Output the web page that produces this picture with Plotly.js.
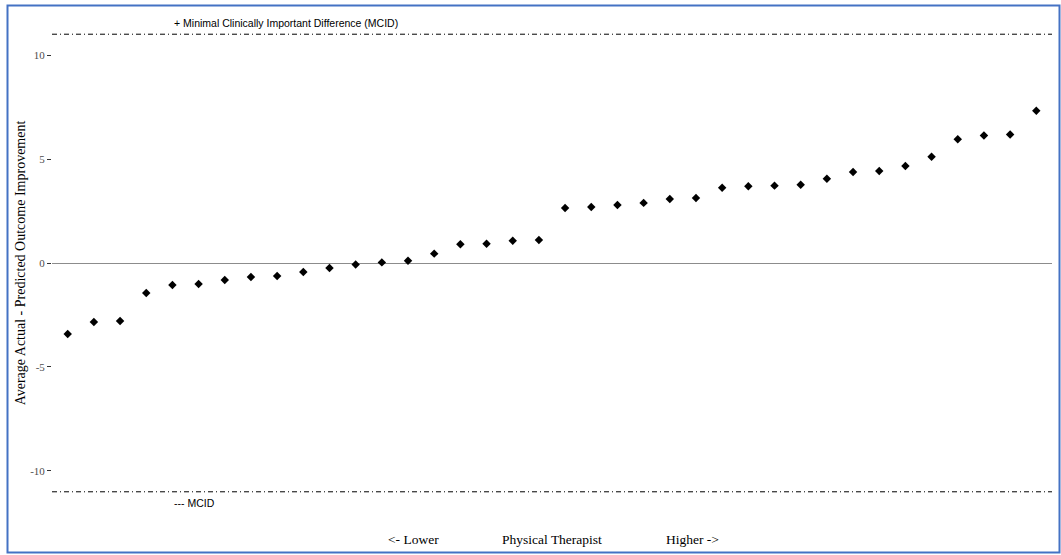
<!DOCTYPE html>
<html>
<head>
<meta charset="utf-8">
<script src="https://cdn.plot.ly/plotly-3.0.1.min.js"></script>
<style>
  html, body { margin: 0; padding: 0; background: #ffffff; }
  #chart { width: 1061px; height: 555px; }
</style>
</head>
<body>
<div id="chart"></div>
<script>
// Therapists ranked from lower to higher (index 1..38)
const therapistRank = Array.from({length: 38}, (_, i) => i + 1);
// Average actual - predicted outcome improvement per therapist
const avgDiff = [
  -3.41, -2.84, -2.79, -1.44, -1.06, -1.01, -0.82, -0.67, -0.63, -0.43,
  -0.24, -0.07, 0.03, 0.11, 0.45, 0.90, 0.93, 1.07, 1.11, 2.64,
  2.69, 2.79, 2.89, 3.08, 3.13, 3.62, 3.69, 3.72, 3.76, 4.05,
  4.38, 4.42, 4.66, 5.11, 5.95, 6.13, 6.18, 7.32
];
const mcid = 11;
const yTicks = [-10, -5, 0, 5, 10];
const labelTop = "+ Minimal Clinically Important Difference (MCID)";
const labelBottom = "--- MCID";
const xLabels = ["<- Lower", "Physical Therapist", "Higher ->"];
const xLabelPos = [0.361, 0.5, 0.64];
const yTitle = "Average Actual - Predicted Outcome Improvement";

const serif = "Liberation Serif, Times New Roman, serif";
const sans = "Liberation Sans, Arial, sans-serif";

const trace = {
  x: therapistRank,
  y: avgDiff,
  type: "scatter",
  mode: "markers",
  marker: { symbol: "diamond", size: 6.5, color: "#000000" },
  hoverinfo: "x+y",
  showlegend: false
};

// plot area: left 52, width 1000; top 13, height 500
const L = 52, W = 1000, T = 13, H = 500;
const px2paperX = p => (p - L) / W;
const px2paperY = p => (T + H - p) / H;

const shapes = [
  { type: "line", xref: "paper", x0: 0, x1: 1, yref: "y", y0: mcid, y1: mcid,
    line: { color: "#000000", width: 1, dash: "5px,3px,1px,3px" } },
  { type: "line", xref: "paper", x0: 0, x1: 1, yref: "y", y0: -mcid, y1: -mcid,
    line: { color: "#000000", width: 1, dash: "5px,3px,1px,3px" } },
  { type: "rect", xref: "paper", yref: "paper",
    x0: px2paperX(7.5), x1: px2paperX(1059.5), y0: px2paperY(552.5), y1: px2paperY(5.5),
    line: { color: "#4472C4", width: 2 }, fillcolor: "rgba(0,0,0,0)", layer: "above" }
];

const annotations = [
  { x: 5, y: mcid + 0.55, xref: "x", yref: "y", text: labelTop, showarrow: false,
    xanchor: "left", yanchor: "middle", font: { family: sans, size: 10.5, color: "#000000" } },
  { x: 5, y: -mcid - 0.55, xref: "x", yref: "y", text: labelBottom, showarrow: false,
    xanchor: "left", yanchor: "middle", font: { family: sans, size: 10.5, color: "#000000" } }
];
xLabels.forEach((t, i) => {
  annotations.push({ x: xLabelPos[i], y: px2paperY(539), xref: "paper", yref: "paper",
    text: t, showarrow: false, xanchor: "center", yanchor: "middle",
    font: { family: serif, size: 13.5, color: "#000000" } });
});

const layout = {
  width: 1061, height: 555,
  margin: { l: L, r: 1061 - L - W, t: T, b: 555 - T - H, pad: 0 },
  paper_bgcolor: "#ffffff", plot_bgcolor: "#ffffff",
  xaxis: {
    range: [0.4, 38.6], showticklabels: false, ticks: "", showgrid: false,
    zeroline: false, showline: false
  },
  yaxis: {
    range: [-12.02, 12.02], tickvals: yTicks, ticktext: yTicks.map(String),
    ticks: "outside", ticklen: 4, tickwidth: 1.2, tickcolor: "#333333",
    tickfont: { family: serif, size: 11, color: "#4d4d4d" },
    showgrid: false, showline: false,
    zeroline: true, zerolinecolor: "#8c8c8c", zerolinewidth: 1.2,
    title: { text: yTitle, font: { family: serif, size: 14, color: "#000000" }, standoff: 1 }
  },
  shapes: shapes,
  annotations: annotations,
  showlegend: false
};

Plotly.newPlot("chart", [trace], layout, { displayModeBar: false, staticPlot: false });
</script>
</body>
</html>
